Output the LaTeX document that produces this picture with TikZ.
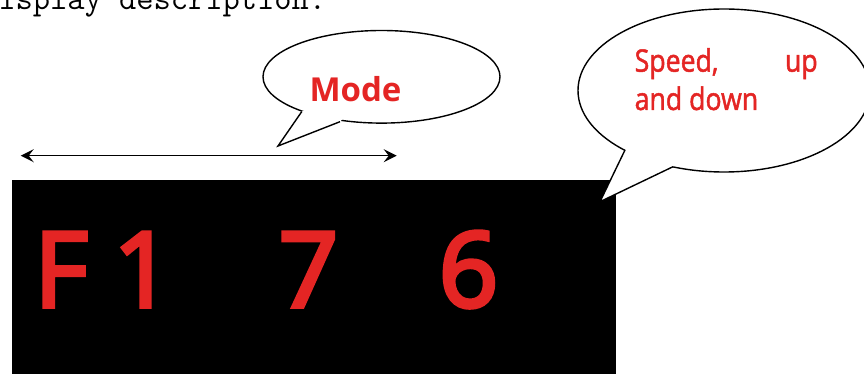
\documentclass[tikz,border=0pt]{standalone}
\usepackage{fontspec}
\setmainfont{Open Sans}
\newfontfamily\speedfont[FakeStretch=0.86,FakeBold=1.5]{Open Sans}
\newfontfamily\digitfont[FakeBold=4]{Open Sans}
\usetikzlibrary{shapes.geometric,arrows.meta,calc}
\definecolor{dred}{RGB}{228,37,36}
\begin{document}
\begin{tikzpicture}[x=1pt,y=-1pt,
  bubble/.style={ellipse,draw=black,fill=white,line width=1.4pt,inner sep=0pt},
  redtxt/.style={text=dred,inner sep=0pt},
  digit/.style={redtxt,font=\digitfont\fontsize{104}{104}\selectfont,anchor=base},
  tailline/.style={draw=black,line width=1.4pt,line join=miter},
  dimarrow/.style={line width=1.5pt,{Stealth[length=13pt,width=13pt,inset=5pt]}-{Stealth[length=13pt,width=13pt,inset=5pt]}},
]
\useasboundingbox (0,0) rectangle (864,374);
\clip (0,0) rectangle (864,374);
% header line (cut off)
\node[anchor=base west,inner sep=0pt,font=\ttfamily\fontsize{33.5}{33.5}\selectfont] (hdr) at (-19,9.5) {display description.};
% display
\node[fill=black,inner sep=0pt,minimum width=604pt,minimum height=194pt,anchor=north west] (display) at (12,180) {};
\node[digit] (dF) at (61,306.7) {F};
\node[digit] (d1) at (143,306.7) {1};
\node[digit] (d7) at (308.5,306.7) {7};
\node[digit] (d6) at (468.5,306.7) {6};
% dimension arrow
\coordinate (aL) at (20.7,155.7);
\coordinate (aR) at (396.7,155.7);
\draw[dimarrow] (aL) -- (aR);
% Mode bubble
\node[bubble,minimum width=237pt,minimum height=92.6pt] (modeb) at (381.5,76.8) {};
\coordinate (mb1) at (301.7,111.7);
\coordinate (mtip) at (278,146);
\coordinate (mb2) at (340,121.7);
\fill[white] (mtip) -- (mb1) -- ($(mb1)!0.12!(modeb.center)$) -- ($(mb2)!0.12!(modeb.center)$) -- (mb2) -- cycle;
\draw[tailline] (mb1) -- (mtip) -- (mb2);
\node[redtxt,anchor=base,font=\bfseries\fontsize{33}{33}\selectfont] (modet) at (355.5,101.7) {Mode};
% Speed bubble
\node[bubble,minimum width=292pt,minimum height=163pt] (speedb) at (724,90.5) {};
\coordinate (sb1) at (625,150);
\coordinate (stip) at (600,201.7);
\coordinate (sb2) at (673,166.7);
\fill[white] (stip) -- (sb1) -- ($(sb1)!0.12!(speedb.center)$) -- ($(sb2)!0.12!(speedb.center)$) -- (sb2) -- cycle;
\draw[tailline] (sb1) -- (stip) -- (sb2);
\node[redtxt,anchor=base west,text width=183pt,align=left,font=\speedfont\fontsize{31}{38}\selectfont] (sp1) at (634.5,71.7) {Speed,\hfill up};
\node[redtxt,anchor=base west,font=\speedfont\fontsize{31}{38}\selectfont] (sp2) at (634.5,110) {and down};
\end{tikzpicture}
\end{document}
